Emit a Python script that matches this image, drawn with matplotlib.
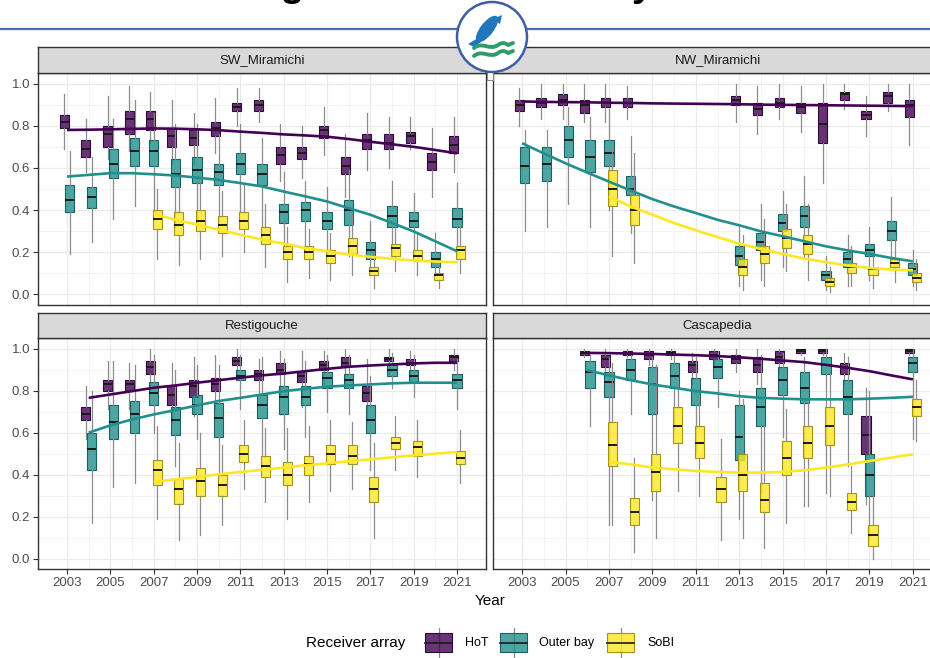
import matplotlib
matplotlib.use("Agg")
import matplotlib.pyplot as plt
from matplotlib.colors import to_rgba
from matplotlib.patches import Rectangle, Circle, Ellipse, Polygon, PathPatch
from matplotlib.path import Path

plt.rcParams["font.family"] = ["Liberation Sans", "DejaVu Sans"]

W, H = 930, 658

ARRAYS = ["HoT", "Outer bay", "SoBI"]
FILLS = ["#440154", "#21908C", "#FDE725"]
EDGES = ["#2E0A3A", "#17635F", "#A39414"]

# rows: year, lower whisker, q1, median, q3, upper whisker
SW_HOT = [
    (2003, .69, .79, .82, .85, .95), (2004, .58, .65, .69, .73, .83),
    (2005, .64, .70, .76, .80, .94), (2006, .68, .76, .83, .87, .99),
    (2007, .72, .78, .83, .87, .96), (2008, .62, .70, .75, .79, .92),
    (2009, .62, .71, .74, .78, .86), (2010, .67, .75, .79, .82, .93),
    (2011, .80, .87, .89, .91, .98), (2012, .82, .87, .90, .92, .98),
    (2013, .54, .62, .66, .70, .81), (2014, .55, .64, .67, .70, .80),
    (2015, .66, .74, .78, .80, .89), (2016, .46, .57, .61, .65, .76),
    (2017, .59, .69, .73, .76, .86), (2018, .60, .69, .72, .76, .84),
    (2019, .69, .72, .75, .77, .84), (2020, .46, .59, .63, .67, .79),
    (2021, .58, .67, .71, .75, .84),
]
SW_OUT = [
    (2003, .19, .39, .45, .52, .68), (2004, .25, .41, .46, .51, .65),
    (2005, .36, .55, .62, .69, .83), (2006, .42, .61, .68, .74, .92),
    (2007, .40, .61, .68, .73, .86), (2008, .32, .51, .57, .64, .81),
    (2009, .34, .53, .59, .65, .81), (2010, .35, .52, .58, .62, .76),
    (2011, .39, .57, .62, .67, .81), (2012, .32, .52, .57, .62, .74),
    (2013, .20, .34, .39, .43, .58), (2014, .20, .35, .40, .44, .54),
    (2015, .18, .31, .35, .39, .51), (2016, .18, .33, .40, .45, .59),
    (2017, .10, .17, .21, .25, .35), (2018, .18, .32, .37, .42, .54),
    (2019, .18, .32, .35, .39, .48), (2020, .09, .13, .17, .20, .29),
    (2021, .18, .32, .36, .41, .53),
]
SW_SOB = [
    (2007, .17, .31, .36, .40, .50), (2008, .14, .28, .33, .39, .51),
    (2009, .17, .30, .35, .40, .53), (2010, .18, .29, .33, .37, .49),
    (2011, .20, .31, .35, .39, .52), (2012, .13, .24, .28, .32, .43),
    (2013, .06, .17, .20, .23, .32), (2014, .08, .17, .20, .23, .31),
    (2015, .07, .15, .18, .21, .29), (2016, .09, .19, .23, .27, .37),
    (2017, .03, .09, .11, .13, .20), (2018, .11, .18, .22, .24, .34),
    (2019, .09, .16, .18, .21, .29), (2020, .03, .07, .09, .10, .15),
    (2021, .10, .17, .21, .23, .34),
]
SW_HOT_FIT = [.780, .781, .783, .785, .787, .786, .783, .779, .772, .766,
              .759, .754, .748, .737, .724, .712, .700, .685, .669]
SW_OUT_FIT = [.559, .567, .575, .575, .570, .564, .554, .543, .528, .512,
              .488, .465, .441, .409, .378, .339, .299, .252, .205]
SW_SOB_FIT = [.383, .354, .331, .307, .283, .260, .241, .220, .205, .189,
              .178, .169, .161, .156, .153]

NW_HOT = [
    (2003, .80, .87, .90, .92, .98), (2004, .83, .89, .91, .93, 1.0),
    (2005, .83, .90, .92, .95, 1.0), (2006, .82, .86, .90, .92, 1.0),
    (2007, .82, .89, .91, .93, 1.0), (2008, .83, .89, .91, .93, .99),
    (2013, .82, .90, .92, .94, 1.0), (2014, .76, .85, .88, .91, .99),
    (2015, .83, .89, .91, .93, 1.0), (2016, .77, .86, .89, .91, .99),
    (2017, .53, .72, .81, .91, 1.0), (2018, .88, .92, .95, .96, 1.0),
    (2019, .75, .83, .85, .87, .94), (2020, .87, .91, .94, .96, 1.0),
    (2021, .71, .84, .90, .92, 1.0),
]
NW_OUT = [
    (2003, .30, .53, .61, .70, .78), (2004, .32, .54, .62, .70, .78),
    (2005, .43, .65, .73, .80, .89), (2006, .32, .58, .65, .73, .84),
    (2007, .40, .61, .67, .73, .88), (2008, .29, .47, .50, .56, .75),
    (2013, .04, .14, .18, .23, .32), (2014, .07, .21, .25, .29, .43),
    (2015, .13, .30, .34, .38, .49), (2016, .17, .32, .37, .42, .56),
    (2017, .02, .07, .09, .11, .18), (2018, .04, .13, .17, .20, .28),
    (2019, .07, .18, .21, .24, .32), (2020, .15, .26, .30, .35, .46),
    (2021, .04, .09, .12, .15, .21),
]
NW_SOB = [
    (2007, .18, .42, .50, .59, .70), (2008, .15, .33, .40, .47, .67),
    (2013, .02, .09, .13, .17, .28), (2014, .04, .15, .19, .23, .36),
    (2015, .11, .22, .27, .31, .43), (2016, .07, .19, .24, .28, .43),
    (2017, .01, .04, .06, .08, .13), (2018, .04, .10, .13, .15, .23),
    (2019, .03, .09, .12, .13, .20), (2020, .06, .13, .15, .17, .28),
    (2021, .02, .06, .08, .10, .17),
]
NW_HOT_FIT = [.915, .913, .912, .911, .909, .908, .906, .905, .904, .903,
              .902, .900, .899, .898, .897, .896, .895, .894, .893]
NW_OUT_FIT = [.717, .669, .622, .578, .535, .493, .452, .417, .386, .354,
              .328, .299, .276, .252, .228, .209, .192, .173, .157]
NW_SOB_FIT = [.465, .417, .378, .339, .304, .272, .241, .216, .192, .170,
              .153, .137, .126, .118, .115]

REST_HOT = [
    (2004, .57, .66, .69, .72, .82), (2005, .71, .80, .83, .85, .94),
    (2006, .71, .80, .83, .85, .93), (2007, .81, .88, .91, .94, 1.0),
    (2008, .65, .73, .78, .82, .93), (2009, .68, .77, .82, .85, .96),
    (2010, .71, .80, .83, .86, .97), (2011, .85, .92, .94, .96, 1.0),
    (2012, .78, .85, .88, .90, .95), (2013, .77, .88, .90, .93, .99),
    (2014, .72, .84, .87, .89, .99), (2015, .82, .90, .92, .94, .99),
    (2016, .82, .91, .93, .96, 1.0), (2017, .65, .75, .79, .82, .95),
    (2018, .88, .94, .95, .96, 1.0), (2019, .85, .92, .93, .95, .99),
    (2021, .90, .94, .96, .97, 1.0),
]
REST_OUT = [
    (2004, .17, .42, .52, .60, .80), (2005, .34, .57, .65, .73, .94),
    (2006, .36, .60, .69, .75, .92), (2007, .60, .73, .79, .84, .97),
    (2008, .44, .59, .66, .72, .90), (2009, .57, .69, .73, .78, .92),
    (2010, .41, .58, .67, .74, .92), (2011, .71, .85, .87, .90, .97),
    (2012, .49, .67, .73, .78, .96), (2013, .52, .69, .77, .82, .95),
    (2014, .58, .73, .77, .82, .94), (2015, .70, .81, .86, .89, .97),
    (2016, .69, .81, .85, .88, .97), (2017, .42, .60, .66, .73, .87),
    (2018, .81, .87, .90, .92, .98), (2019, .77, .84, .87, .90, .97),
    (2021, .71, .81, .85, .88, .95),
]
REST_SOB = [
    (2007, .19, .35, .42, .47, .63), (2008, .09, .26, .33, .38, .55),
    (2009, .11, .30, .37, .43, .60), (2010, .16, .30, .35, .40, .54),
    (2011, .33, .46, .50, .54, .66), (2012, .27, .39, .44, .49, .62),
    (2013, .19, .35, .40, .46, .62), (2014, .27, .40, .45, .49, .63),
    (2015, .32, .45, .50, .54, .66), (2016, .33, .45, .49, .54, .65),
    (2017, .10, .27, .33, .39, .55), (2018, .42, .52, .55, .58, .68),
    (2019, .39, .49, .53, .56, .66), (2021, .36, .45, .48, .51, .61),
]
REST_HOT_FIT = [.765, .781, .797, .813, .824, .837, .849, .861, .872, .881,
                .892, .903, .913, .919, .924, .929, .932, .932]
REST_OUT_FIT = [.599, .634, .662, .686, .707, .729, .750, .765, .781, .797,
                .808, .818, .824, .829, .834, .837, .837, .837]
REST_SOB_FIT = [.364, .377, .388, .401, .412, .422, .433, .444, .453, .463,
                .472, .482, .491, .499, .507]

CASC_HOT = [
    (2006, .96, .97, .98, .99, 1.0), (2007, .87, .91, .95, .97, 1.0),
    (2008, .96, .97, .98, .99, 1.0), (2009, .92, .95, .97, .99, 1.0),
    (2010, .95, .97, .98, .99, 1.0), (2011, .83, .89, .92, .94, .98),
    (2012, .92, .95, .97, .99, 1.0), (2013, .89, .93, .95, .97, 1.0),
    (2014, .83, .89, .92, .96, 1.0), (2015, .88, .93, .96, .99, 1.0),
    (2016, .97, .98, .99, 1.0, 1.0), (2017, .97, .98, .99, 1.0, 1.0),
    (2018, .83, .88, .91, .93, .98), (2019, .26, .50, .59, .68, .81),
    (2021, .97, .98, .99, 1.0, 1.0),
]
CASC_OUT = [
    (2006, .63, .81, .89, .94, .97), (2007, .16, .77, .84, .89, .96),
    (2008, .69, .85, .90, .95, .98), (2009, .28, .69, .83, .91, .96),
    (2010, .61, .81, .87, .93, .98), (2011, .50, .73, .80, .86, .96),
    (2012, .72, .86, .91, .95, .99), (2013, .19, .47, .58, .73, .80),
    (2014, .31, .63, .72, .81, .97), (2015, .58, .78, .85, .91, .98),
    (2016, .25, .74, .81, .89, .96), (2017, .31, .88, .92, .96, 1.0),
    (2018, .44, .69, .77, .85, .96), (2019, .09, .30, .40, .50, .80),
    (2021, .57, .89, .93, .96, 1.0),
]
CASC_SOB = [
    (2007, .16, .44, .54, .65, .93), (2008, .03, .16, .22, .29, .48),
    (2009, .10, .32, .41, .50, .92), (2010, .32, .55, .63, .72, .84),
    (2011, .30, .48, .55, .63, .80), (2012, .09, .27, .33, .39, .57),
    (2013, .10, .32, .40, .50, .76), (2014, .05, .22, .28, .36, .63),
    (2015, .17, .40, .48, .56, .71), (2016, .25, .48, .55, .63, .76),
    (2017, .30, .54, .63, .72, .88), (2018, .12, .23, .27, .31, .44),
    (2019, .00, .06, .11, .16, .30), (2021, .56, .68, .72, .76, .85),
]
CASC_HOT_FIT = [.979, .978, .976, .974, .971, .968, .964, .958, .951, .943,
                .935, .922, .908, .892, .872, .853]
CASC_OUT_FIT = [.897, .872, .849, .829, .813, .797, .786, .773, .765, .761,
                .758, .758, .758, .761, .765, .770]
CASC_SOB_FIT = [.460, .448, .433, .425, .417, .412, .409, .409, .412, .420,
                .433, .448, .464, .480, .496]

PANELS = [
    ("SW_Miramichi", [SW_HOT, SW_OUT, SW_SOB], [SW_HOT_FIT, SW_OUT_FIT, SW_SOB_FIT]),
    ("NW_Miramichi", [NW_HOT, NW_OUT, NW_SOB], [NW_HOT_FIT, NW_OUT_FIT, NW_SOB_FIT]),
    ("Restigouche", [REST_HOT, REST_OUT, REST_SOB], [REST_HOT_FIT, REST_OUT_FIT, REST_SOB_FIT]),
    ("Cascapedia", [CASC_HOT, CASC_OUT, CASC_SOB], [CASC_HOT_FIT, CASC_OUT_FIT, CASC_SOB_FIT]),
]

X_TICKS = list(range(2003, 2022, 2))
Y_TICKS = [0.0, 0.2, 0.4, 0.6, 0.8, 1.0]


def px_rect(x0, y0, x1, y1):
    """pixel box (y down) -> figure fraction rect"""
    return [x0 / W, 1 - y1 / H, (x1 - x0) / W, (y1 - y0) / H]


def draw_panel(ax, series, fits):
    present = {}
    for k, rows in enumerate(series):
        for r in rows:
            present.setdefault(r[0], []).append(k)

    for k, rows in enumerate(series):
        stats, pos = [], []
        for yr, lo, q1, med, q3, hi in rows:
            grp = present[yr]
            n = len(grp)
            step = 0.16 if n == 3 else 0.26
            pos.append(yr + (grp.index(k) - (n - 1) / 2) * step)
            stats.append(dict(med=med, q1=q1, q3=q3, whislo=lo, whishi=hi, fliers=[]))
        ax.bxp(stats, positions=pos, widths=0.42, patch_artist=True,
               showfliers=False, showcaps=False, manage_ticks=False,
               boxprops=dict(facecolor=to_rgba(FILLS[k], 0.8), edgecolor=EDGES[k], lw=0.8),
               medianprops=dict(color="#1A1A1A", lw=1.4),
               whiskerprops=dict(color="#8C8C8C", lw=0.9),
               zorder=2 + k)

    for k, rows in enumerate(series):
        start = rows[0][0]
        ax.plot(range(start, start + len(fits[k])), fits[k],
                color=FILLS[k], lw=1.9, zorder=6, solid_capstyle="butt")


fig = plt.figure(figsize=(W / 100, H / 100), dpi=100)
fig.patch.set_facecolor("white")

cols = [(38, 486), (493, 942)]
rows_px = [((47, 73), (73, 305)), ((313, 338), (338, 569))]

for i, (name, series, fits) in enumerate(PANELS):
    r, c = divmod(i, 2)
    x0, x1 = cols[c]
    (s0, s1), (p0, p1) = rows_px[r]

    ax = fig.add_axes(px_rect(x0, p0, x1, p1))
    draw_panel(ax, series, fits)
    ax.set_xlim(2001.66, 2022.34)
    ax.set_ylim(-0.05, 1.05)
    ax.set_xticks(X_TICKS)
    ax.set_xticks(range(2004, 2022, 2), minor=True)
    ax.set_yticks(Y_TICKS)
    ax.set_yticks([0.1, 0.3, 0.5, 0.7, 0.9], minor=True)
    ax.set_yticklabels([f"{v:.1f}" for v in Y_TICKS])
    ax.grid(which="major", color="#EBEBEB", lw=0.9, zorder=0)
    ax.grid(which="minor", color="#F3F3F3", lw=0.6, zorder=0)
    ax.set_axisbelow(True)
    for sp in ax.spines.values():
        sp.set_color("#333333")
        sp.set_linewidth(1.0)
    ax.tick_params(which="major", length=3.5, width=0.8, color="#333333",
                   labelsize=9.5, labelcolor="#4D4D4D", pad=2)
    ax.tick_params(which="minor", length=0)
    if c == 1:
        ax.tick_params(left=False, labelleft=False)
    if r == 0:
        ax.tick_params(bottom=False, labelbottom=False)

    sax = fig.add_axes(px_rect(x0, s0, x1, s1))
    sax.set_facecolor("#D9D9D9")
    sax.set_xticks([])
    sax.set_yticks([])
    for sp in sax.spines.values():
        sp.set_color("#333333")
        sp.set_linewidth(1.0)
    sax.text(0.5, 0.5, name, transform=sax.transAxes, ha="center", va="center",
             fontsize=9.5, color="#1A1A1A")

# overlay in pixel coordinates: slide header, logo, axis title and legend
ov = fig.add_axes([0, 0, 1, 1])
ov.set_xlim(0, W)
ov.set_ylim(H, 0)
ov.set_axis_off()
ov.patch.set_visible(False)

# slide heading runs off the top edge; only its lowest strokes show
head = dict(fontsize=28, fontweight="bold", color="black", va="baseline")
ov.text(305, -4, "Re-estimating", ha="right", **head)
ov.text(653, -4, "marine survival by", ha="right", **head)
ov.text(672, -4, "across rivers", ha="left", **head)

ov.plot([0, W], [29, 29], color="#4A6DAF", lw=1.6, zorder=1)
ov.add_patch(Rectangle((486.5, 66), 6, 14, fc="white", ec="#8A8A8A", lw=0.8, zorder=2))
ov.add_patch(Circle((492, 37), 35, fc="white", ec="#3F5FA3", lw=1.8, zorder=3))

# leaping salmon
fish = "#2177BD"
ov.add_patch(Ellipse((487, 29), 32, 13, angle=-52, fc=fish, ec="none", zorder=4))
ov.add_patch(Polygon([(478, 38), (468, 44), (474, 47), (481, 42)], closed=True,
                     fc=fish, ec="none", zorder=4))
ov.add_patch(Polygon([(493, 19), (502, 15), (500, 24)], closed=True,
                     fc=fish, ec="none", zorder=4))
for dy in (0, 8):
    wave = Path([(474, 48 + dy), (482, 41 + dy), (490, 51 + dy), (498, 45 + dy),
                 (503, 41 + dy), (508, 45 + dy), (513, 43 + dy)],
                [Path.MOVETO, Path.CURVE4, Path.CURVE4, Path.CURVE4,
                 Path.CURVE3, Path.CURVE3, Path.LINETO])
    ov.add_patch(PathPatch(wave, fc="none", ec="#2E9C6C", lw=2.8, zorder=4,
                           capstyle="round"))

ov.text(490, 601, "Year", fontsize=11, color="black", ha="center", va="center")

ov.text(306, 643, "Receiver array", fontsize=11, color="black", ha="left", va="center")
key_x = [425, 500, 607]
label_x = [465, 539, 647]
for k, name in enumerate(ARRAYS):
    kx = key_x[k]
    ov.plot([kx + 13.5, kx + 13.5], [628, 657], color="#8C8C8C", lw=0.9, zorder=1)
    ov.add_patch(Rectangle((kx, 633), 27, 19, fc=to_rgba(FILLS[k], 0.8),
                           ec=EDGES[k], lw=0.8, zorder=2))
    ov.plot([kx, kx + 27], [642.5, 642.5], color="#1A1A1A", lw=1.2, zorder=3)
    ov.text(label_x[k], 643, name, fontsize=9, color="black", ha="left", va="center")

fig.savefig("out.png", dpi=100)
